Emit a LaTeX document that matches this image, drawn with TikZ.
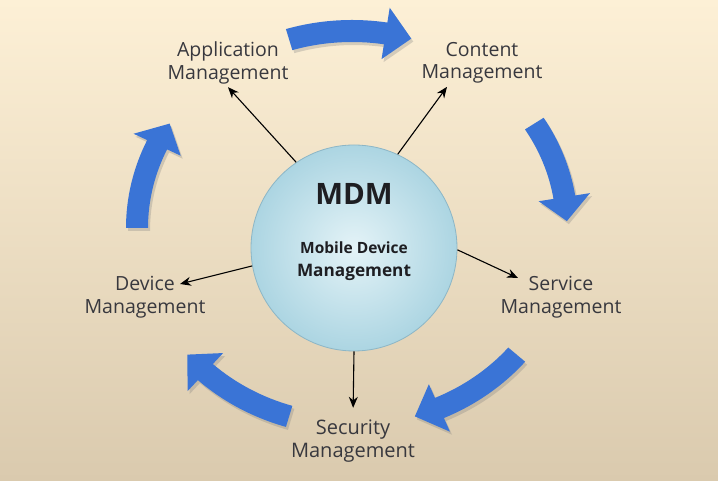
\documentclass[tikz,border=0pt]{standalone}
\usepackage{fontspec}
\setmainfont{Open Sans}
\usetikzlibrary{arrows.meta,calc,shadows}

\definecolor{bgtop}{RGB}{253,240,214}
\definecolor{bgmid}{RGB}{246,231,202}
\definecolor{bgbot}{RGB}{218,202,174}
\definecolor{ballin}{RGB}{228,243,247}
\definecolor{ballout}{RGB}{172,213,226}
\definecolor{ballrim}{RGB}{140,182,198}
\definecolor{cycleblue}{RGB}{58,116,214}
\definecolor{txtgray}{RGB}{56,56,62}
\definecolor{hubgray}{RGB}{30,30,34}

\tikzset{
  mgmt/.style={align=center, text=txtgray, inner sep=3pt,
    font=\fontsize{19.5}{22.5}\selectfont},
  hub/.style={circle, minimum size=206pt, draw=ballrim, line width=0.8pt,
    inner color=ballin, outer color=ballout},
  hubtext/.style={text=hubgray, inner sep=0pt},
  spoke/.style={-{Stealth[length=11pt,width=9pt]}, line width=1.1pt, black},
  cyclefill/.style={fill=cycleblue,
    drop shadow={opacity=0.3, shadow xshift=2pt, shadow yshift=-3pt}}
}

% clockwise arrow from angle #1 to angle #2 on the 215 x 197 ellipse
\newcommand{\bigarrow}[2]{%
  \pgfmathsetmacro{\headbase}{#2+7}%
  \fill[cyclefill] (#1:226pt and 208pt)
    arc[start angle=#1, end angle=\headbase, x radius=226pt, y radius=208pt]
    -- (\headbase:241pt and 223pt) -- (#2:215pt and 197pt)
    -- (\headbase:189pt and 171pt) -- (\headbase:204pt and 186pt)
    arc[start angle=\headbase, end angle=#1, x radius=204pt, y radius=186pt]
    -- cycle;}

\begin{document}
\begin{tikzpicture}[x=1pt,y=1pt]
  % background
  \fill[top color=bgtop, middle color=bgmid, bottom color=bgbot] (0,0) rectangle (718,481);
  \useasboundingbox (0,0) rectangle (718,481);

  % cycle
  \begin{scope}[shift={(352,253)}]
    \bigarrow{107}{74}
    \bigarrow{32}{2}
    \bigarrow{-40}{-73}
    \bigarrow{-107}{-140}
    \bigarrow{180}{148}
  \end{scope}

  % hub
  \node[hub] (mdm) at (354,233) {};
  \node[hubtext, font=\bfseries\fontsize{29.5}{32}\selectfont] (mdmtitle) at (354,287) {MDM};
  \node[hubtext, font=\bfseries\fontsize{15.5}{18}\selectfont] (mdmline1) at (354,233) {Mobile Device};
  \node[hubtext, font=\bfseries\fontsize{17.2}{20}\selectfont] (mdmline2) at (354,209) {Management};

  % labels
  \node[mgmt] (app) at (228,418) {Application\\Management};
  \node[mgmt] (content) at (482,418) {Content\\Management};
  \node[mgmt] (device) at (145,184) {Device\\Management};
  \node[mgmt] (service) at (561,184) {Service\\Management};
  \node[mgmt, font=\fontsize{20}{22.5}\selectfont] (security) at (353,40) {Security\\Management};

  \coordinate (contentend) at ($(content.south)+(-35,0)$);
  \coordinate (deviceend) at ($(device.center)+(35,13)$);
  \coordinate (serviceend) at ($(service.center)+(-43,19)$);

  % spokes
  \draw[spoke] (mdm.124) -- (app.south);
  \draw[spoke] (mdm.65) -- (contentend);
  \draw[spoke] (mdm.190) -- (deviceend);
  \draw[spoke] (mdm.-1) -- (serviceend);
  \draw[spoke, shorten >=9pt] (mdm.south) -- (security.north);
\end{tikzpicture}
\end{document}
